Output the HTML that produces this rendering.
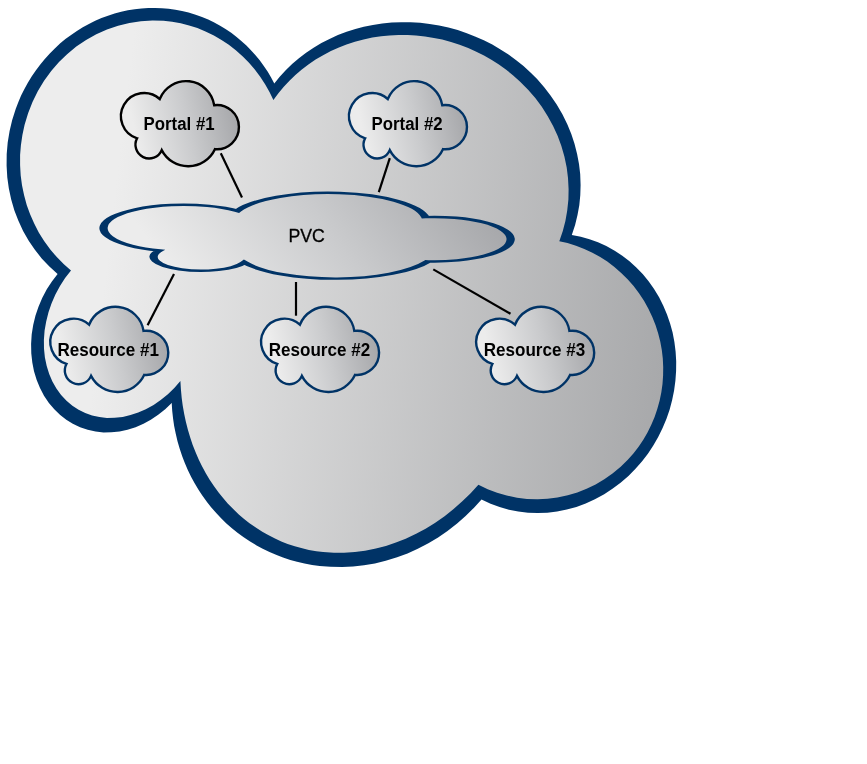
<!DOCTYPE html>
<html><head><meta charset="utf-8"><style>
html,body{margin:0;padding:0;background:#fff;}
svg{display:block;will-change:transform;}
text{font-family:"Liberation Sans",sans-serif;}
</style></head><body>
<svg width="867" height="764" viewBox="0 0 867 764">
<defs>
<linearGradient id="gBig" gradientUnits="userSpaceOnUse" x1="119" y1="155" x2="704" y2="223">
<stop offset="0" stop-color="#ededed"/><stop offset="1" stop-color="#a5a6a8"/></linearGradient>
<linearGradient id="gS" x1="0" y1="0.5" x2="1" y2="0.34">
<stop offset="0.1" stop-color="#ececec"/><stop offset="0.55" stop-color="#cacbcd"/><stop offset="1" stop-color="#a4a5a8"/></linearGradient>
<path id="cl" d="M16.20,57.18 A23.20193380996873,23.20193380996873 0 1 1 38.84,17.90 A28.393245965661674,28.393245965661674 0 0 1 93.27,24.09 A22.09555344892319,22.09555344892319 0 1 1 94.03,68.04 A29.627732010351536,29.627732010351536 0 0 1 40.81,69.06 A13.676703867269714,13.676703867269714 0 1 1 16.20,57.18Z"/>
</defs>
<path d="M195.6,14.7 188.6,12.6 182.0,11.0 175.4,9.7 168.6,8.8 161.9,8.2 155.1,7.9 148.3,8.0 141.5,8.4 134.7,9.2 127.9,10.3 121.2,11.8 114.6,13.5 108.0,15.7 101.5,18.1 95.2,20.8 88.9,23.9 82.8,27.3 76.9,30.9 71.1,34.9 65.4,39.1 60.0,43.6 54.8,48.4 49.8,53.4 44.6,59.2 40.1,64.7 35.8,70.4 31.8,76.3 27.7,82.9 24.3,89.2 21.1,95.6 18.3,102.2 15.7,108.9 12.2,120.1 9.6,130.9 7.7,142.4 6.7,154.1 6.6,165.8 7.3,177.4 8.8,188.2 11.2,199.5 14.4,210.5 18.3,220.6 23.1,230.9 28.7,240.8 34.7,249.6 41.7,258.4 49.4,266.6 57.6,274.0 51.9,281.5 46.8,289.3 42.2,298.0 38.5,306.7 35.5,315.6 33.2,325.1 31.7,334.3 31.1,344.0 31.3,353.6 32.3,362.6 34.0,371.3 36.7,380.1 40.0,388.1 44.0,395.7 48.9,403.0 54.3,409.3 60.2,415.0 66.3,419.7 72.8,423.7 80.1,427.2 87.7,429.8 95.6,431.5 103.6,432.4 111.4,432.3 119.6,431.5 127.5,429.8 135.6,427.2 143.5,423.8 150.8,419.8 158.2,414.8 165.2,409.2 171.7,402.9 172.2,410.7 173.1,418.7 174.1,425.7 175.7,433.5 177.5,441.2 179.7,448.8 182.2,456.2 184.7,462.8 187.8,469.9 191.2,476.9 194.5,483.1 198.5,489.7 202.3,495.5 206.8,501.8 211.1,507.2 216.2,513.0 220.9,518.0 226.4,523.4 232.2,528.4 237.5,532.7 243.7,537.3 250.1,541.5 256.6,545.4 262.7,548.7 269.5,552.0 276.6,555.1 283.0,557.5 290.3,559.9 297.0,561.7 304.5,563.5 312.1,564.9 319.7,565.9 330.5,566.8 342.2,567.0 353.1,566.5 364.0,565.3 374.9,563.4 385.7,560.8 397.1,557.3 407.5,553.4 417.8,548.8 428.4,543.2 438.1,537.4 447.5,531.0 457.1,523.5 465.6,515.9 473.8,507.9 481.5,499.4 490.6,503.7 499.6,507.0 508.9,509.7 518.3,511.6 528.0,512.7 537.7,513.1 547.4,512.7 557.1,511.5 566.8,509.5 576.4,506.9 585.7,503.4 594.9,499.3 604.2,494.2 612.8,488.6 620.9,482.5 628.7,475.7 635.5,468.8 641.9,461.5 647.9,453.7 653.3,445.5 658.2,437.0 662.6,428.1 666.4,419.0 669.6,409.7 672.1,400.2 674.1,390.6 675.4,380.8 676.1,371.1 676.2,361.3 675.6,351.6 674.4,342.0 672.6,332.6 670.1,323.4 667.0,314.4 663.3,305.7 659.1,297.3 653.9,288.8 648.6,281.2 642.7,274.1 636.3,267.5 629.5,261.3 622.3,255.8 614.7,250.8 606.3,246.1 598.0,242.3 589.5,239.2 580.8,236.7 571.8,234.9 575.1,224.9 577.5,215.1 579.3,205.2 580.3,195.1 580.6,185.0 580.2,174.1 579.0,164.0 577.1,153.9 574.5,143.8 571.3,134.0 567.3,124.3 562.4,114.3 556.7,104.5 550.7,95.7 544.2,87.2 537.1,79.1 530.5,72.5 523.5,66.1 516.2,60.2 508.5,54.6 500.5,49.4 492.3,44.6 483.8,40.3 475.0,36.4 466.8,33.2 457.7,30.1 448.4,27.6 439.1,25.5 429.6,23.9 420.2,22.8 410.6,22.3 401.1,22.2 391.7,22.6 382.2,23.5 372.9,24.9 363.8,26.8 355.4,29.0 346.6,31.8 337.9,35.1 329.5,38.9 321.4,43.1 313.6,47.7 306.1,52.8 298.9,58.2 292.1,64.0 285.7,70.3 279.7,76.8 274.3,83.5 271.1,77.6 267.6,71.6 263.8,65.9 259.7,60.3 255.3,55.0 250.7,49.9 246.4,45.5 241.3,40.9 236.6,36.9 231.2,32.8 225.5,29.0 219.7,25.5 213.8,22.3 208.2,19.6 202.0,17.0Z" fill="#003366"/>
<path d="M163.5,20.8 152.5,20.5 140.9,21.2 129.4,22.9 118.1,25.7 107.0,29.4 96.3,34.2 86.1,40.0 76.3,46.6 67.1,54.2 59.0,62.0 51.2,71.1 44.1,80.8 37.9,91.1 32.5,101.9 28.1,113.2 24.6,124.8 22.4,134.9 20.9,145.2 20.1,154.9 20.1,165.2 20.7,175.5 22.0,185.2 24.1,195.3 26.8,205.2 30.1,214.3 34.2,223.6 38.9,232.7 44.3,241.3 50.3,249.5 56.8,257.1 63.9,264.3 71.0,270.5 65.1,278.1 60.0,286.1 55.4,294.5 51.6,303.3 48.5,312.2 46.2,321.4 44.6,330.5 43.9,339.7 44.0,348.7 44.9,357.4 46.7,365.9 49.2,374.0 52.4,381.6 56.4,388.6 61.1,395.0 66.5,400.7 72.4,405.7 78.6,409.7 85.2,413.0 92.1,415.4 99.4,417.1 106.9,417.9 114.5,417.8 122.7,416.9 130.5,415.1 138.2,412.5 145.8,409.2 153.6,404.9 160.7,400.0 167.9,394.2 174.3,388.0 180.4,381.0 180.9,389.3 181.7,398.0 182.7,405.6 184.2,414.1 185.8,421.6 187.9,429.8 190.3,437.8 192.7,444.9 195.7,452.6 198.7,459.4 201.9,466.0 205.8,473.2 209.5,479.4 213.9,486.1 218.6,492.5 223.1,498.1 227.7,503.4 233.2,509.0 238.8,514.4 244.1,518.9 249.5,523.2 255.8,527.6 262.3,531.7 268.2,535.1 275.0,538.6 281.3,541.4 287.6,543.9 294.8,546.3 302.2,548.3 308.9,549.9 316.4,551.2 323.2,552.1 334.0,552.8 344.0,552.8 354.9,552.1 365.0,550.8 375.9,548.6 385.9,545.9 395.9,542.6 405.7,538.7 416.1,533.8 425.6,528.7 434.9,523.0 444.6,516.2 453.3,509.3 462.3,501.3 470.4,493.5 478.4,484.8 487.7,489.2 497.1,492.8 506.7,495.6 517.1,497.7 527.0,498.9 537.6,499.2 547.5,498.8 557.4,497.5 567.8,495.3 577.3,492.4 586.6,488.8 595.6,484.4 604.3,479.3 612.5,473.5 620.7,466.7 627.8,459.7 633.4,453.4 638.6,446.7 643.3,439.7 647.5,432.4 651.3,424.8 654.6,417.0 657.3,409.0 659.6,400.8 661.3,392.5 662.5,384.1 663.1,375.6 663.2,367.1 662.8,358.6 661.8,350.1 660.3,341.7 658.2,333.4 655.6,325.3 652.3,316.9 648.4,308.7 644.0,300.8 639.0,293.2 633.6,286.0 627.6,279.2 621.2,272.9 614.4,267.0 607.3,261.6 600.2,257.0 592.4,252.7 584.3,248.9 576.0,245.7 567.5,243.1 559.3,241.2 562.8,231.0 565.4,220.9 567.2,210.7 568.4,199.6 568.6,189.2 568.0,178.1 566.7,167.6 564.4,156.6 561.3,145.8 557.6,135.8 553.1,126.0 547.6,116.0 541.8,106.8 535.3,98.1 528.1,89.8 519.9,81.4 513.2,75.4 506.2,69.8 498.9,64.5 491.8,60.0 484.0,55.5 475.8,51.4 468.2,48.0 459.6,44.8 451.0,42.0 442.2,39.6 433.9,37.9 425.0,36.4 415.9,35.5 407.6,35.0 398.5,35.0 389.5,35.4 381.2,36.2 372.3,37.6 363.6,39.4 354.9,41.8 346.5,44.5 338.9,47.5 330.9,51.1 323.1,55.2 315.6,59.6 308.4,64.5 301.5,69.8 295.4,75.0 289.7,80.5 283.8,86.7 278.4,93.3 273.4,100.1 269.5,92.0 265.1,84.2 260.2,76.7 254.8,69.5 249.0,62.8 242.8,56.4 235.8,50.2 228.8,44.8 221.5,39.9 213.9,35.5 205.5,31.4 197.4,28.1 189.1,25.4 180.7,23.3 172.1,21.8Z" fill="url(#gBig)"/>
<g stroke="#000" stroke-width="2.2" fill="none">
<line x1="220.8" y1="153.3" x2="242" y2="197.5"/>
<line x1="389.8" y1="158.2" x2="378.8" y2="192.2"/>
<line x1="174" y1="274" x2="147.6" y2="325.2"/>
<line x1="296" y1="282" x2="296" y2="315.7"/>
<line x1="433.3" y1="269.4" x2="510.5" y2="313.8"/>
</g>
<g fill="url(#gS)" stroke-width="2.4">
<use href="#cl" transform="translate(120.9,81.1)" stroke="#000"/>
<use href="#cl" transform="translate(348.95,81.1)" stroke="#003366"/>
<use href="#cl" transform="translate(103.4,192.8) scale(3.451,1.008)" stroke="#003366"/>
<use href="#cl" transform="translate(50.25,306.8)" stroke="#003366"/>
<use href="#cl" transform="translate(261.05,306.8)" stroke="#003366"/>
<use href="#cl" transform="translate(476.15,306.8)" stroke="#003366"/>
</g>
<g font-size="17.5" font-weight="bold" fill="#000">
<text x="143.6" y="129.8" textLength="71" lengthAdjust="spacingAndGlyphs">Portal #1</text>
<text x="371.6" y="129.8" textLength="71" lengthAdjust="spacingAndGlyphs">Portal #2</text>
<text x="57.4" y="355.8" textLength="101.5" lengthAdjust="spacingAndGlyphs">Resource #1</text>
<text x="268.7" y="355.8" textLength="101.5" lengthAdjust="spacingAndGlyphs">Resource #2</text>
<text x="483.7" y="355.8" textLength="101.5" lengthAdjust="spacingAndGlyphs">Resource #3</text>
</g>
<text x="288.4" y="241.9" font-size="18" fill="#000" stroke="#000" stroke-width="0.3" textLength="36.4" lengthAdjust="spacingAndGlyphs">PVC</text>
</svg>
</body></html>
